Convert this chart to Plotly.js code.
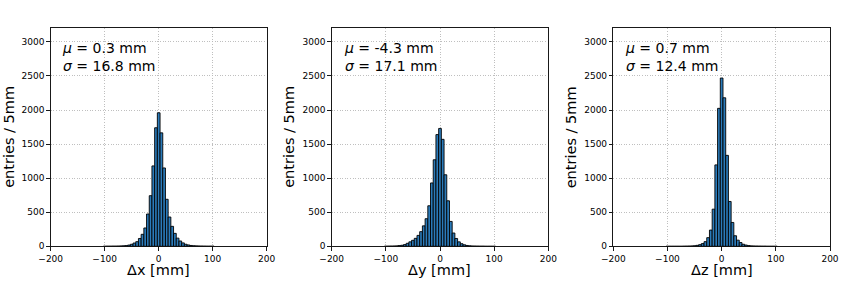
<!DOCTYPE html>
<html>
<head>
<meta charset="utf-8">
<script src="https://cdn.plot.ly/plotly-3.0.1.min.js"></script>
<style>html,body{margin:0;padding:0;background:#fff;}#chart{width:847px;height:283px;}</style>
</head>
<body>
<div id="chart"></div>
<script>
// Bin centres (mm), 5 mm bins
const binCenters = [-100,-95,-90,-85,-80,-75,-70,-65,-60,-55,-50,-45,-40,-35,-30,-25,-20,-15,-10,-5,0,5,10,15,20,25,30,35,40,45,50,55,60,65,70,75,80,85,90,95,100];
const countsDx = [0,1,1,2,2,3,5,7,10,18,30,48,68,115,176,269,474,743,1180,1740,1960,1665,1150,690,430,293,190,120,78,50,30,20,12,8,6,4,3,2,1,1,1];
const countsDy = [1,2,3,4,6,10,15,25,44,65,88,117,160,215,300,405,595,930,1270,1640,1730,1570,1050,668,365,195,115,65,38,22,12,7,4,3,2,1,1,0,0,0,0];
const countsDz = [0,0,0,0,0,0,1,2,3,5,8,14,24,40,68,127,238,545,1195,2025,2470,2180,1335,658,350,155,90,55,30,18,10,6,4,3,2,1,1,0,0,0,0];
const xTitles = ["Δx [mm]", "Δy [mm]", "Δz [mm]"];
const muLabels = ["0.3", "-4.3", "0.7"];
const sigmaLabels = ["16.8", "17.1", "12.4"];
const xTicks = [-200,-100,0,100,200];
const yTicks = [0,500,1000,1500,2000,2500,3000];

(function () {
const W = 847, H = 283;
const px = v => v / W;
const py = v => 1 - v / H;
const FONT = "DejaVu Sans, Liberation Sans, sans-serif";

const panels = [
  {left: 50.7, right: 266.7, ytitleX: 9.5, annX: 60},
  {left: 331.7, right: 548.3, ytitleX: 289.5, annX: 341.5},
  {left: 613.3, right: 830.0, ytitleX: 571, annX: 623}
];
const axTop = 28.3, axBottom = 246.3;
const allCounts = [countsDx, countsDy, countsDz];

const data = allCounts.map((c, i) => ({
  type: 'bar',
  x: binCenters,
  y: c,
  width: 5,
  xaxis: i === 0 ? 'x' : 'x' + (i + 1),
  yaxis: i === 0 ? 'y' : 'y' + (i + 1),
  marker: {color: '#2b7bba', line: {color: '#000000', width: 0.9}},
  hoverinfo: 'skip',
  showlegend: false
}));

const layout = {
  width: W, height: H,
  margin: {l: 0, r: 0, t: 0, b: 0},
  paper_bgcolor: '#ffffff',
  plot_bgcolor: '#ffffff',
  bargap: 0,
  font: {family: FONT, color: '#000000', size: 9},
  annotations: [],
  showlegend: false
};

panels.forEach((p, i) => {
  const sfx = i === 0 ? '' : String(i + 1);
  const common = {
    showline: true, mirror: true, linecolor: '#000000', linewidth: 0.9,
    ticks: 'outside', ticklen: 3.5, tickwidth: 0.9, tickcolor: '#000000',
    showgrid: true, gridcolor: '#b8b8b8', gridwidth: 0.9, griddash: '1px,1.6px',
    zeroline: false, tickfont: {family: FONT, size: 9, color: '#000000'},
    fixedrange: true
  };
  layout['xaxis' + sfx] = Object.assign({}, common, {
    domain: [px(p.left), px(p.right)],
    range: [-200, 200],
    tickmode: 'array', tickvals: xTicks,
    anchor: 'y' + sfx
  });
  layout['yaxis' + sfx] = Object.assign({}, common, {
    domain: [py(axBottom), py(axTop)],
    range: [0, 3200],
    tickmode: 'array', tickvals: yTicks,
    anchor: 'x' + sfx
  });
  layout.annotations.push({
    xref: 'paper', yref: 'paper', x: px((p.left + p.right) / 2), y: py(270),
    text: xTitles[i], showarrow: false, xanchor: 'center', yanchor: 'middle',
    font: {family: FONT, size: 14.5, color: '#000000'}
  });
  layout.annotations.push({
    xref: 'paper', yref: 'paper', x: px(p.ytitleX), y: py((axTop + axBottom) / 2),
    text: 'entries / 5mm', textangle: -90, showarrow: false, xanchor: 'center', yanchor: 'middle',
    font: {family: FONT, size: 14.5, color: '#000000'}
  });
  layout.annotations.push({
    xref: 'paper', yref: 'paper', x: px(p.annX), y: py(57),
    text: '<i>μ</i> = ' + muLabels[i] + ' mm<br><i>σ</i> = ' + sigmaLabels[i] + ' mm',
    showarrow: false, xanchor: 'left', yanchor: 'middle', align: 'left',
    font: {family: FONT, size: 14, color: '#000000'}
  });
});

Plotly.newPlot('chart', data, layout, {staticPlot: true, displayModeBar: false});
})();
</script>
</body>
</html>
